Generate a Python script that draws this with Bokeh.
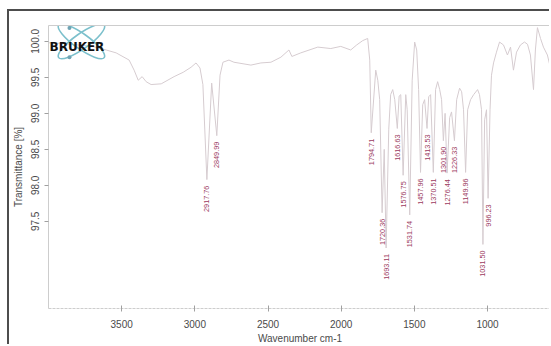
import math

from bokeh.core.properties import value
from bokeh.embed import file_html
from bokeh.models import FixedTicker, LinearAxis, PrintfTickFormatter, Range1d
from bokeh.plotting import figure
from bokeh.resources import INLINE

# ---- spectrum data (wavenumber cm-1, transmittance %) ----
peak_wn = [2917.76, 2849.99, 1794.71, 1720.36, 1693.11, 1616.63, 1576.75,
           1531.74, 1457.96, 1413.53, 1370.51, 1301.90, 1276.44, 1226.33,
           1149.96, 1031.50, 996.23]
peak_T = [98.08, 98.69, 98.73, 97.62, 97.13, 98.79, 98.14,
          97.59, 98.18, 98.79, 98.18, 98.62, 98.17, 98.62,
          98.18, 97.18, 97.82]

trace_wn = [4000, 3900, 3800, 3700, 3606, 3538, 3449, 3415, 3387, 3360, 3333,
            3299, 3230, 3142, 3080, 3026, 2992, 2965, 2945, 2885, 2828, 2808,
            2767, 2733, 2617, 2549, 2480, 2412, 2357, 2337, 2276, 2160, 2071,
            2003, 1935, 1894, 1853, 1819, 1805, 1764, 1750, 1737, 1706, 1675,
            1662, 1648, 1634, 1604, 1593, 1559, 1549, 1515, 1498, 1484, 1471,
            1443, 1430, 1402, 1389, 1355, 1341, 1327, 1314, 1290, 1259, 1246,
            1211, 1191, 1177, 1164, 1136, 1116, 1095, 1068, 1055, 1041, 1020,
            1007, 983, 973, 959, 939, 918, 891, 864, 843, 823, 802, 775, 748,
            727, 707, 686, 673, 659, 638, 618, 591, 570, 560]
trace_T = [99.98, 99.97, 99.95, 99.93, 99.88, 99.84, 99.74, 99.60, 99.46, 99.51, 99.44,
           99.40, 99.41, 99.51, 99.57, 99.64, 99.70, 99.63, 99.40, 99.42, 99.53, 99.71,
           99.74, 99.71, 99.67, 99.70, 99.71, 99.78, 99.88, 99.79, 99.84, 99.92, 99.90,
           99.93, 99.88, 99.95, 100.01, 100.04, 99.74, 99.60, 99.46, 99.19, 98.50, 98.78,
           99.26, 99.33, 99.19, 99.24, 99.26, 99.26, 99.05, 99.46, 99.99, 99.88, 99.33,
           99.12, 99.19, 99.23, 99.26, 99.33, 99.44, 99.33, 99.19, 99.00, 98.94, 99.02,
           99.19, 99.35, 99.30, 99.05, 99.05, 99.19, 99.26, 99.33, 99.26, 99.05, 98.91,
           99.05, 99.05, 99.53, 99.70, 99.85, 99.99, 99.95, 99.81, 99.92, 99.60, 99.85, 99.95, 99.99,
           99.96, 99.81, 99.33, 99.88, 100.19, 100.04, 99.92, 99.81, 99.63, 99.55]

x_ticks = [3500, 3000, 2500, 2000, 1500, 1000]
y_ticks = [97.5, 98.0, 98.5, 99.0, 99.5, 100.0]

# merge the peak minima into the trace, ordered by wavenumber
points = sorted(zip(trace_wn + peak_wn, trace_T + peak_T), key=lambda t: -t[0])
spec_wn = [w for w, _ in points]
spec_T = [t for _, t in points]

X0, X1 = 4000, 563
Y0, Y1 = 96.29, 100.22
W, H = 542, 335
BL, BT, BB = 38, 14, 35

p = figure(width=W, height=H, output_backend="svg", toolbar_location=None,
           x_range=Range1d(X0, X1), y_range=Range1d(Y0, Y1),
           min_border_left=BL, min_border_right=0, min_border_top=BT,
           min_border_bottom=BB, background_fill_color="white",
           border_fill_color="white", outline_line_color=None,
           margin=(9, 0, 0, 7),
           styles={"border-top": "2px solid #4d4d4d",
                   "border-left": "2px solid #4d4d4d"})
p.grid.visible = False

# pixel helpers for positioning the logo inside the frame
fw = W - BL
fh = H - BT - BB
def wn_at(px):
    return X0 - (px / fw) * (X0 - X1)
def t_at(py):
    return Y1 - (py / fh) * (Y1 - Y0)

axis_grey = "#cdcdcd"
label_grey = "#4a4a4a"
font = value("Liberation Sans")

xa = p.xaxis[0]
xa.ticker = FixedTicker(ticks=x_ticks)
xa.axis_label = "Wavenumber cm-1"
xa.axis_line_color = axis_grey
xa.axis_line_dash = "3 1"
xa.major_tick_line_color = "#a0a0a0"
xa.major_tick_in = 3
xa.major_tick_out = 3
xa.minor_tick_line_color = None
xa.major_label_text_font_size = "10px"
xa.major_label_text_color = label_grey
xa.major_label_text_font = "Liberation Sans"
xa.major_label_standoff = 8
xa.axis_label_text_font_size = "10px"
xa.axis_label_text_font_style = "normal"
xa.axis_label_text_color = label_grey
xa.axis_label_text_font = "Liberation Sans"
xa.axis_label_standoff = 2

ya = p.yaxis[0]
ya.ticker = FixedTicker(ticks=y_ticks)
ya.formatter = PrintfTickFormatter(format="%.1f")
ya.axis_label = "Transmittance [%]"
ya.axis_line_color = axis_grey
ya.major_tick_line_color = "#a0a0a0"
ya.major_tick_in = 0
ya.major_tick_out = 4
ya.minor_tick_line_color = None
ya.major_label_orientation = "vertical"
ya.major_label_text_font_size = "10px"
ya.major_label_text_color = label_grey
ya.major_label_text_font = "Liberation Sans"
ya.major_label_standoff = 5
ya.axis_label_text_font_size = "10px"
ya.axis_label_text_font_style = "normal"
ya.axis_label_text_color = label_grey
ya.axis_label_text_font = "Liberation Sans"
ya.axis_label_standoff = 5

top = LinearAxis(ticker=FixedTicker(ticks=[]), axis_line_color=axis_grey,
                 major_tick_line_color=None, minor_tick_line_color=None,
                 major_label_text_font_size="0px")
p.add_layout(top, "above")

# spectrum trace
p.line(spec_wn, spec_T, line_color="#d6ccd0", line_width=1.0)

# peak annotations, written upward just below each minimum
p.text(x=peak_wn, y=peak_T, text=[f"{w:.2f}" for w in peak_wn],
       angle=math.pi / 2, text_align="right", text_baseline="middle",
       y_offset=6, text_font=font, text_font_size="7.3px",
       text_color="#9b3a60")

# instrument logo in the upper left corner
cx, cy = wn_at(33), t_at(16)
p.ellipse(x=[cx, cx], y=[cy, cy], width=56, height=15,
          width_units="screen", height_units="screen",
          angle=[0.62, -0.62], fill_color=None,
          line_color="#7cc0cc", line_width=1.6)
p.scatter(x=[wn_at(21), wn_at(21)], y=[t_at(2.5), t_at(32)], size=4,
          fill_color="#6fa3b3", line_color=None)
p.text(x=[wn_at(1)], y=[t_at(22)], text=["BRUKER"],
       text_font=value("DejaVu Sans"), text_font_style="bold",
       text_font_size="12px", text_color="#111111",
       text_align="left", text_baseline="alphabetic")

open("out.html", "w").write(file_html(p, INLINE))
